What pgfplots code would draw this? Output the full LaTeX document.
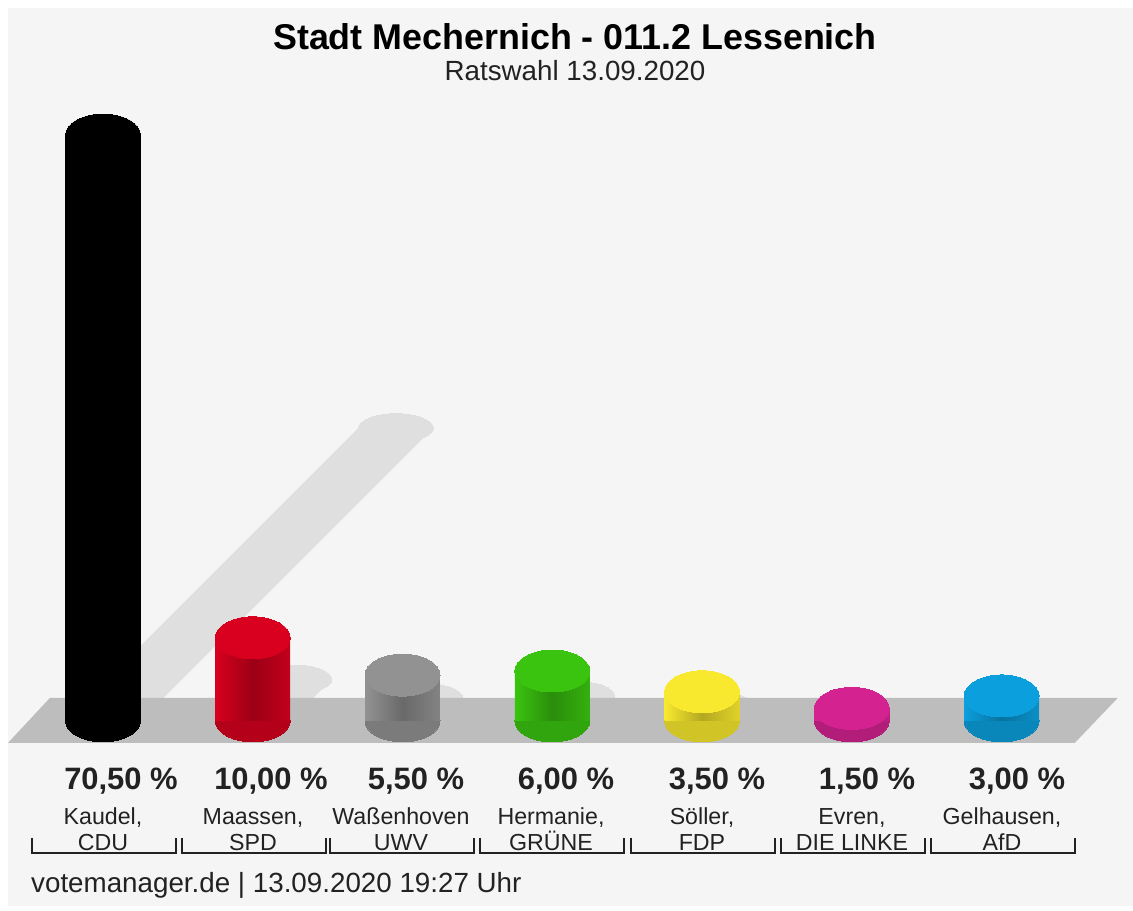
\documentclass[border=0pt]{standalone}
\usepackage{pgfplots}
\pgfplotsset{compat=1.18}
\usepackage{fontspec}
\setmainfont{Liberation Sans}

\definecolor{bg}{HTML}{F5F5F5}
\definecolor{floorc}{HTML}{BDBDBD}
\definecolor{shadowc}{HTML}{DFDFDF}
\definecolor{txt}{HTML}{222222}
\definecolor{cdu}{HTML}{000000}
\definecolor{spd}{HTML}{D8001E}
\definecolor{uwv}{HTML}{929292}
\definecolor{gruene}{HTML}{3AC40F}
\definecolor{fdp}{HTML}{F9E92E}
\definecolor{linke}{HTML}{D42391}
\definecolor{afd}{HTML}{0B9FDD}

% one cylinder: x position, value, colour
\newcommand{\cyl}[3]{%
  \addplot[only marks, mark=*, mark size=21.34pt, color=#3!84!black,
    mark options={yscale=0.56, line width=0pt}] coordinates {(#1,0)};
  \addplot[ybar, bar width=0.5, bar shift=0pt, draw=none,
    left color=#3, right color=#3!90!black, middle color=#3!72!black] coordinates {(#1,#2)};
  \addplot[only marks, mark=*, mark size=21.34pt, color=#3,
    mark options={yscale=0.56, line width=0pt}] coordinates {(#1,#2)};
}

\begin{document}
\begin{tikzpicture}
% background, in pixel units of the reference
\begin{scope}[x=0.02cm, y=-0.02cm]
  \fill[white] (0,0) rectangle (1133,911);
  \fill[bg] (8,8) rectangle (1133,906);
\end{scope}

\begin{axis}[
    at={(0cm,-18.22cm)}, anchor=south west,
    scale only axis, width=22.66cm, height=18.22cm,
    xmin=-0.6876, xmax=6.8758,
    ymin=-22.864, ymax=86.763,
    hide axis, clip=false, clip marker paths=true,
]
% shadows
\addplot[fill=shadowc, draw=none] coordinates {(-0.25,0) (0.25,0) (2.206,35.25) (1.706,35.25)};
\addplot[fill=shadowc, draw=none] coordinates {(0.75,0) (1.25,0) (1.527,5) (1.027,5)};
\addplot[fill=shadowc, draw=none] coordinates {(1.75,0) (2.25,0) (2.403,2.75) (1.903,2.75)};
\addplot[fill=shadowc, draw=none] coordinates {(2.75,0) (3.25,0) (3.416,3) (2.916,3)};
\addplot[fill=shadowc, draw=none] coordinates {(3.75,0) (4.25,0) (4.347,1.75) (3.847,1.75)};
\addplot[fill=shadowc, draw=none] coordinates {(4.75,0) (5.25,0) (5.292,0.75) (4.792,0.75)};
\addplot[fill=shadowc, draw=none] coordinates {(5.75,0) (6.25,0) (6.333,1.5) (5.833,1.5)};
\addplot[only marks, mark=*, mark size=21.34pt, color=shadowc,
  mark options={yscale=0.38, line width=0pt}] coordinates {
  (1.956,35.25) (1.277,5) (2.153,2.75) (3.166,3) (4.097,1.75) (5.042,0.75) (6.083,1.5)};
% floor
\addplot[fill=floorc, draw=none] coordinates {(-0.634,-2.647) (6.489,-2.647) (6.776,2.768) (-0.354,2.768)};
% bars
\cyl{0}{70.5}{cdu}
\cyl{1}{10.0}{spd}
\cyl{2}{5.5}{uwv}
\cyl{3}{6.0}{gruene}
\cyl{4}{3.5}{fdp}
\cyl{5}{1.5}{linke}
\cyl{6}{3.0}{afd}
\end{axis}

\begin{scope}[x=0.02cm, y=-0.02cm]
  \node[anchor=base, text=black, font=\fontsize{20.4}{24}\selectfont\bfseries] at (575,50) {Stadt Mechernich - 011.2 Lessenich};
  \node[anchor=base, text=txt, font=\fontsize{15.8}{19}\selectfont] at (575,81) {Ratswahl 13.09.2020};
  % value labels
  \begin{scope}[every node/.style={anchor=base, text=txt, font=\fontsize{17.6}{21}\selectfont\bfseries}]
    \node at (121,790) {70,50 \%};
    \node at (271,790) {10,00 \%};
    \node at (416,790) {5,50 \%};
    \node at (566,790) {6,00 \%};
    \node at (717,790) {3,50 \%};
    \node at (867,790) {1,50 \%};
    \node at (1017,790) {3,00 \%};
  \end{scope}
  % candidate names
  \begin{scope}[every node/.style={anchor=base, text=txt, font=\fontsize{13.2}{16}\selectfont}]
    \node at (103,825) {Kaudel,};     \node at (103,850) {CDU};
    \node at (253,825) {Maassen,};    \node at (253,850) {SPD};
    \node at (401,825) {Waßenhoven};  \node at (401,850) {UWV};
    \node at (551,825) {Hermanie,};   \node at (551,850) {GRÜNE};
    \node at (702,825) {Söller,};     \node at (702,850) {FDP};
    \node at (852,825) {Evren,};      \node at (852,850) {DIE LINKE};
    \node at (1002,825) {Gelhausen,}; \node at (1002,850) {AfD};
  \end{scope}
  % brackets
  \foreach \c in {103,253,401,551,702,852,1002}
    \draw[line width=1.1pt, color=txt] (\c-71,838) -- (\c-71,853) -- (\c+73,853) -- (\c+73,838);
  \node[anchor=base west, text=txt, font=\fontsize{15.8}{19}\selectfont] at (25,892) {votemanager.de | 13.09.2020 19:27 Uhr};
\end{scope}
\end{tikzpicture}
\end{document}
